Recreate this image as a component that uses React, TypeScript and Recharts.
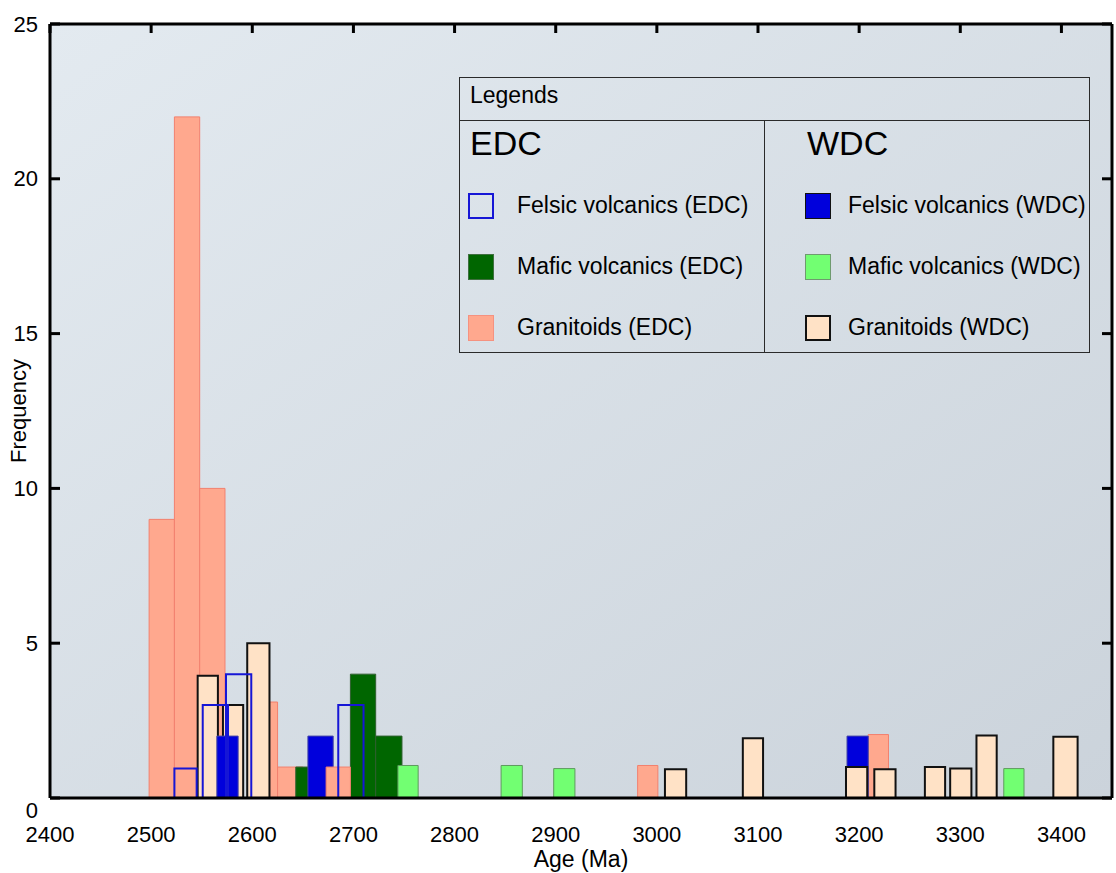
import React from "react";
import { ComposedChart, XAxis, YAxis, ReferenceArea, Scatter, Label } from "recharts";

// Histogram bins: age range (Ma) and frequency.
type Bin = { start: number; end: number; count: number; front?: boolean };

const X_TICKS = [2400, 2500, 2600, 2700, 2800, 2900, 3000, 3100, 3200, 3300, 3400];
const Y_TICKS = [0, 5, 10, 15, 20, 25];

const felsicEdc: Bin[] = [
  { start: 2523, end: 2545, count: 0.95 },
  { start: 2551, end: 2576, count: 3 },
  { start: 2574, end: 2599, count: 4 },
  { start: 2685, end: 2710, count: 3 },
];

const maficEdc: Bin[] = [
  { start: 2643, end: 2668, count: 1 },
  { start: 2697, end: 2722, count: 4 },
  { start: 2722, end: 2748, count: 2 },
];

const granitoidsEdc: Bin[] = [
  { start: 2498, end: 2523, count: 9 },
  { start: 2523, end: 2548, count: 22 },
  { start: 2548, end: 2573, count: 10 },
  { start: 2600, end: 2625, count: 3.1 },
  { start: 2625, end: 2650, count: 1 },
  { start: 2673, end: 2697, count: 1, front: true },
  { start: 2981, end: 3001, count: 1.05 },
  { start: 3209, end: 3229, count: 2.05 },
];

const felsicWdc: Bin[] = [
  { start: 2565, end: 2586, count: 2, front: true },
  { start: 2655, end: 2680, count: 2 },
  { start: 3188, end: 3209, count: 2 },
];

const maficWdc: Bin[] = [
  { start: 2744, end: 2764, count: 1.05 },
  { start: 2846, end: 2867, count: 1.05 },
  { start: 2898, end: 2919, count: 0.95 },
  { start: 3343, end: 3363, count: 0.95 },
];

const granitoidsWdc: Bin[] = [
  { start: 2546, end: 2566, count: 3.95 },
  { start: 2571, end: 2591, count: 3 },
  { start: 2595, end: 2617, count: 5 },
  { start: 3008, end: 3029, count: 0.93 },
  { start: 3085, end: 3105, count: 1.93 },
  { start: 3187, end: 3208, count: 1 },
  { start: 3215, end: 3236, count: 0.93 },
  { start: 3265, end: 3285, count: 1 },
  { start: 3290, end: 3311, count: 0.95 },
  { start: 3316, end: 3336, count: 2.02 },
  { start: 3392, end: 3416, count: 1.98 },
];

const FONT = '"Liberation Sans", Arial, Helvetica, sans-serif';
const INK = "#000000";
const FRAME = { stroke: INK, strokeWidth: 3 };
const TICK_LEN = 10;

type Style = { name: string; fill: string; stroke: string; strokeWidth: number; legendStroke: string };

const STYLE: Record<string, Style> = {
  felsicEdc: { name: "Felsic volcanics (EDC)", fill: "none", stroke: "#1616d6", strokeWidth: 2, legendStroke: "#1616d6" },
  maficEdc: { name: "Mafic volcanics (EDC)", fill: "#006600", stroke: "#2f5f2f", strokeWidth: 1, legendStroke: "#3f6f3f" },
  granitoidsEdc: { name: "Granitoids (EDC)", fill: "#FFA88E", stroke: "#F2806E", strokeWidth: 1, legendStroke: "#F59280" },
  felsicWdc: { name: "Felsic volcanics (WDC)", fill: "#0000DC", stroke: "#4444a8", strokeWidth: 1, legendStroke: "#111111" },
  maficWdc: { name: "Mafic volcanics (WDC)", fill: "#72FF72", stroke: "#5f9a5f", strokeWidth: 1, legendStroke: "#6f9a6f" },
  granitoidsWdc: { name: "Granitoids (WDC)", fill: "#FFE2C6", stroke: "#111111", strokeWidth: 2, legendStroke: "#111111" },
};

// back-to-front; "front" bins get a second pass, open felsic EDC boxes last
const FILLED: [string, Bin[]][] = [
  ["granitoidsEdc", granitoidsEdc],
  ["maficEdc", maficEdc],
  ["felsicWdc", felsicWdc],
  ["granitoidsWdc", granitoidsWdc],
  ["maficWdc", maficWdc],
];

// bin midpoints, only so the axes have a data domain to work from
const rows = [...FILLED.map(([, b]) => b), felsicEdc].flat().map((b) => ({ age: (b.start + b.end) / 2, count: b.count }));

function binArea(b: Bin, s: Style, key: string) {
  return (
    <ReferenceArea
      key={key}
      x1={b.start}
      x2={b.end}
      y1={0}
      y2={b.count}
      fill={s.fill}
      fillOpacity={1}
      stroke={s.stroke}
      strokeWidth={s.strokeWidth}
      ifOverflow="visible"
    />
  );
}

// tickSize/tickMargin are 0 on every axis, so x/y below sit on the axis line
function BottomTick({ x, y, payload }: any) {
  return (
    <text x={x} y={y + 44} textAnchor="middle" fontSize={22} fontFamily={FONT} fill={INK}>
      {payload.value}
    </text>
  );
}

function LeftTick({ x, y, payload }: any) {
  const dy = payload.value === 0 ? 12 : 0; // zero label sits a bit low in the original
  return (
    <g>
      <line x1={x} x2={x + TICK_LEN} y1={y} y2={y} stroke={INK} strokeWidth={3} />
      <text x={x - 12} y={y + dy} textAnchor="end" dominantBaseline="central" fontSize={22} fontFamily={FONT} fill={INK}>
        {payload.value}
      </text>
    </g>
  );
}

function RightTick({ x, y }: any) {
  return <line x1={x - TICK_LEN} x2={x} y1={y} y2={y} stroke={INK} strokeWidth={3} />;
}

function TopTick({ x, y }: any) {
  return <line x1={x} x2={x} y1={y} y2={y + 9} stroke={INK} strokeWidth={3} />;
}

const GROUPS = [
  { title: "EDC", left: 10, textLeft: 57, keys: ["felsicEdc", "maficEdc", "granitoidsEdc"] },
  { title: "WDC", left: 347, textLeft: 388, keys: ["felsicWdc", "maficWdc", "granitoidsWdc"] },
];
const ROW_TOPS = [115, 176, 237];
const LINE = "1.5px solid #2a2a2a";

function LegendBox() {
  return (
    <div
      style={{
        position: "absolute",
        left: 459,
        top: 77,
        width: 631,
        height: 276,
        border: LINE,
        boxSizing: "border-box",
        fontFamily: FONT,
        color: INK,
      }}
    >
      <div style={{ position: "absolute", left: 0, right: 0, top: 0, height: 42, borderBottom: LINE }}>
        <span style={{ position: "absolute", left: 10, top: 6, fontSize: 23, lineHeight: "23px" }}>Legends</span>
      </div>
      <div style={{ position: "absolute", left: 304, top: 43, bottom: 0, borderLeft: LINE }} />
      {GROUPS.map((g) => (
        <React.Fragment key={g.title}>
          <span style={{ position: "absolute", left: g.left, top: 48, fontSize: 34, lineHeight: "34px" }}>{g.title}</span>
          {g.keys.map((k, i) => {
            const s = STYLE[k];
            return (
              <React.Fragment key={k}>
                <div
                  style={{
                    position: "absolute",
                    left: g.left - 2,
                    top: ROW_TOPS[i],
                    width: 26,
                    height: 26,
                    boxSizing: "border-box",
                    background: s.fill === "none" ? "transparent" : s.fill,
                    border: `${s.strokeWidth === 2 ? 2 : 1}px solid ${s.legendStroke}`,
                  }}
                />
                <span
                  style={{
                    position: "absolute",
                    left: g.textLeft,
                    top: ROW_TOPS[i] + 1,
                    fontSize: 23,
                    lineHeight: "23px",
                    whiteSpace: "nowrap",
                  }}
                >
                  {s.name}
                </span>
              </React.Fragment>
            );
          })}
        </React.Fragment>
      ))}
    </div>
  );
}

export default function App() {
  const front: React.ReactNode[] = [];
  FILLED.forEach(([k, bins]) =>
    bins.forEach((b, i) => {
      if (b.front) front.push(binArea(b, STYLE[k], `${k}-front-${i}`));
    })
  );

  return (
    <div style={{ position: "absolute", left: 0, top: 0, width: 1116, height: 873, background: "#fff", fontFamily: FONT }}>
      <ComposedChart width={1116} height={873} data={rows} margin={{ top: 23, right: 3, bottom: 0, left: 0 }}>
        <defs>
          <linearGradient id="plotBg" x1="0" y1="0" x2="1" y2="1">
            <stop offset="0%" stopColor="#E3EAF0" />
            <stop offset="100%" stopColor="#CBD3DB" />
          </linearGradient>
        </defs>
        <XAxis
          dataKey="age"
          type="number"
          domain={[2400, 3450]}
          ticks={X_TICKS}
          interval={0}
          allowDataOverflow
          height={75}
          axisLine={FRAME}
          tickLine={false}
          tickSize={0}
          tickMargin={0}
          tick={<BottomTick />}
        >
          <Label value="Age (Ma)" position="insideBottom" offset={6} style={{ fontSize: 23, fill: INK, fontFamily: FONT }} />
        </XAxis>
        <XAxis
          xAxisId="top"
          dataKey="age"
          orientation="top"
          type="number"
          domain={[2400, 3450]}
          ticks={X_TICKS}
          interval={0}
          allowDataOverflow
          height={1}
          axisLine={FRAME}
          tickLine={false}
          tickSize={0}
          tickMargin={0}
          tick={<TopTick />}
        />
        <YAxis
          dataKey="count"
          type="number"
          domain={[0, 25]}
          ticks={Y_TICKS}
          interval={0}
          allowDataOverflow
          width={50}
          axisLine={FRAME}
          tickLine={false}
          tickSize={0}
          tickMargin={0}
          tick={<LeftTick />}
        >
          <Label
            value="Frequency"
            angle={-90}
            position="insideLeft"
            offset={18}
            style={{ fontSize: 22, fill: INK, fontFamily: FONT, textAnchor: "middle" }}
          />
        </YAxis>
        <YAxis
          yAxisId="right"
          dataKey="count"
          orientation="right"
          type="number"
          domain={[0, 25]}
          ticks={Y_TICKS}
          interval={0}
          allowDataOverflow
          width={1}
          axisLine={FRAME}
          tickLine={false}
          tickSize={0}
          tickMargin={0}
          tick={<RightTick />}
        />

        <ReferenceArea x1={2400} x2={3450} y1={0} y2={25} fill="url(#plotBg)" fillOpacity={1} stroke="none" />
        {FILLED.map(([k, bins]) => bins.filter((b) => !b.front).map((b, i) => binArea(b, STYLE[k], `${k}-${i}`)))}
        {front}
        {felsicEdc.map((b, i) => binArea(b, STYLE.felsicEdc, `felsicEdc-${i}`))}
        <Scatter dataKey="count" shape={() => <g />} isAnimationActive={false} legendType="none" />
      </ComposedChart>
      <LegendBox />
    </div>
  );
}
